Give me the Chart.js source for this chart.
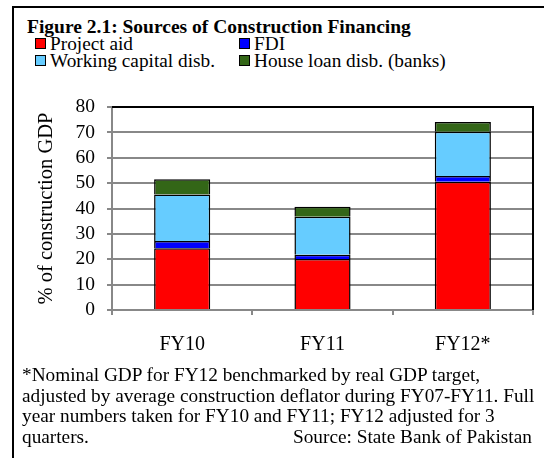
<!DOCTYPE html>
<html>
<head>
<meta charset="utf-8">
<script src="https://cdn.jsdelivr.net/npm/chart.js@4"></script>
<style>
    body { margin: 0; width: 544px; height: 458px; overflow: hidden; background: #fff; font-family: "Liberation Serif", "Times New Roman", serif; }
    #frame { position: absolute; left: 12px; top: 6px; width: 600px; height: 600px; border: 2px solid #000; }
    #title { position: absolute; left: 27px; top: 17px; font-size: 19.5px; font-weight: bold; white-space: nowrap; line-height: 20px; }
    .legend-item { position: absolute; font-size: 19.3px; white-space: nowrap; line-height: 19px; }
    .legend-item span { display: inline-block; width: 9px; height: 9px; border: 1px solid #000; margin-right: 4px; vertical-align: 1px; }
    #note { position: absolute; left: 22px; top: 365px; font-size: 19.3px; line-height: 20.5px; white-space: nowrap; }
    #source { position: absolute; left: 293px; top: 426.5px; font-size: 19.3px; white-space: nowrap; line-height: 20.5px; }
    #chart-wrap { position: absolute; left: 0; top: 0; width: 544px; height: 458px; }
</style>
</head>
<body>
<div id="frame"></div>
<div id="title">Figure 2.1: Sources of Construction Financing</div>
<div id="legend"></div>
<div id="chart-wrap"><canvas id="chart"></canvas></div>
<div id="note">*Nominal GDP for FY12 benchmarked by real GDP target,<br>adjusted by average construction deflator during FY07-FY11. Full<br>year numbers taken for FY10 and FY11; FY12 adjusted for 3<br>quarters.</div>
<div id="source">Source: State Bank of Pakistan</div>
<script>
// Chart data (% of construction GDP)
const categories = ["FY10", "FY11", "FY12*"];
const projectAid = [24.3, 20.1, 50.5];
const fdi = [2.9, 1.7, 2.3];
const workingCapital = [18.3, 14.9, 17.4];
const houseLoan = [6.0, 4.0, 3.9];
const seriesNames = ["Project aid", "FDI", "Working capital disb.", "House loan disb. (banks)"];
const seriesColors = ["#ff0000", "#0000ff", "#66ccff", "#336617"];
const yTicks = [0, 10, 20, 30, 40, 50, 60, 70, 80];

// Legend laid out in two aligned columns
const legendSpots = [[35, 34], [239, 34], [35, 51], [239, 51]];
const legendDiv = document.getElementById("legend");
seriesNames.forEach((name, i) => {
    const item = document.createElement("div");
    item.className = "legend-item";
    item.style.left = legendSpots[i][0] + "px";
    item.style.top = legendSpots[i][1] + "px";
    item.innerHTML = `<span style="background:${seriesColors[i]}"></span>${name}`;
    legendDiv.appendChild(item);
});

const seriesData = [projectAid, fdi, workingCapital, houseLoan];

// Black border on the top and right side of the plot area
const plotBorder = {
    id: "plotBorder",
    afterDatasetsDraw(chart) {
        const { ctx, chartArea } = chart;
        ctx.save();
        ctx.strokeStyle = "#000";
        ctx.lineWidth = 2;
        ctx.beginPath();
        ctx.moveTo(chartArea.left, chartArea.top);
        ctx.lineTo(chartArea.right, chartArea.top);
        ctx.lineTo(chartArea.right, chartArea.bottom);
        ctx.stroke();
        ctx.restore();
    }
};

const serif = "'Liberation Serif', 'Times New Roman', serif";

new Chart(document.getElementById("chart"), {
    type: "bar",
    data: {
        labels: categories,
        datasets: seriesData.map((values, i) => ({
            label: seriesNames[i],
            data: values,
            backgroundColor: seriesColors[i],
            borderColor: "#000",
            borderWidth: 1.5,
            barPercentage: 0.4,
            categoryPercentage: 1.0
        }))
    },
    options: {
        responsive: true,
        maintainAspectRatio: false,
        animation: false,
        layout: { padding: { left: 34, right: 11, top: 107, bottom: 98 } },
        plugins: { legend: { display: false }, tooltip: { enabled: false } },
        scales: {
            x: {
                stacked: true,
                afterFit: (scale) => { scale.height = 50; },
                grid: { offset: true, drawOnChartArea: false, drawTicks: true, tickLength: 5, color: "#888", lineWidth: 2 },
                border: { color: "#888", width: 2 },
                ticks: { color: "#000", font: { family: serif, size: 20 }, padding: 18 }
            },
            y: {
                stacked: true,
                min: yTicks[0],
                max: yTicks[yTicks.length - 1],
                afterFit: (scale) => { scale.width = 78; },
                afterBuildTicks: (scale) => { scale.ticks = yTicks.map(v => ({ value: v })); },
                grid: { color: "#888", lineWidth: 2, tickLength: 5 },
                border: { color: "#888", width: 2 },
                ticks: { color: "#000", font: { family: serif, size: 19.5 }, padding: 12, autoSkip: false },
                title: { display: true, text: "% of construction GDP", color: "#000", font: { family: serif, size: 20.5 }, padding: { top: 0, bottom: 4 } }
            }
        }
    },
    plugins: [plotBorder]
});
</script>
</body>
</html>
